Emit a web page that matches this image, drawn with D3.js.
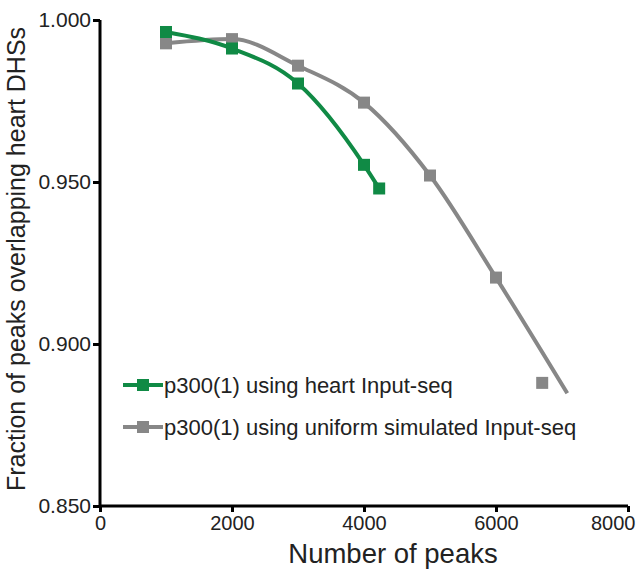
<!DOCTYPE html>
<html>
<head>
<meta charset="utf-8">
<script src="https://cdn.jsdelivr.net/npm/d3@7"></script>
<style>
  body { margin: 0; background: #fff; }
  text { font-family: "Liberation Sans", Arial, sans-serif; }
</style>
</head>
<body>
<svg class="chart"></svg>
<script>
// data
var xTicks = [0, 2000, 4000, 6000, 8000];
var yTicks = [0.85, 0.90, 0.95, 1.00];

var heartPeaks = [1000, 2000, 3000, 4000, 4230];
var heartFrac  = [0.9963, 0.9912, 0.9804, 0.9553, 0.9480];

var uniformPeaks = [1000, 2000, 3000, 4000, 5000, 6000, 6700];
var uniformFrac  = [0.9928, 0.9941, 0.9859, 0.9745, 0.9520, 0.9205, 0.8880];

// fitted curve for the uniform series (runs past the last marker)
var uniformCurvePeaks = [1000, 2000, 3000, 4000, 5000, 6000, 7080];
var uniformCurveFrac  = [0.9928, 0.9941, 0.9859, 0.9745, 0.9520, 0.9205, 0.8848];

var legendLabels = ["p300(1) using heart Input-seq", "p300(1) using uniform simulated Input-seq"];
var colors = ["#108a45", "#878787"];

var W = 644, H = 574;
var margin = {top: 20, right: 16, bottom: 68, left: 100},
    width = W - margin.left - margin.right,
    height = H - margin.top - margin.bottom;

var chart = d3.select(".chart").attr("width", W).attr("height", H);
var g = chart.append("g").attr("transform", "translate(" + margin.left + "," + margin.top + ")");

var xScale = d3.scaleLinear().domain([0, 8000]).range([0, 528]);
var yScale = d3.scaleLinear().domain([0.85, 1.0]).range([486, 0]);

// axes
var xAxis = g.append("g")
    .attr("transform", "translate(0,486)")
    .call(d3.axisBottom(xScale).tickValues(xTicks).tickSize(6).tickPadding(4).tickFormat(d3.format("d")));
var yAxis = g.append("g")
    .call(d3.axisLeft(yScale).tickValues(yTicks).tickSize(7).tickPadding(2).tickFormat(d3.format(".3f")));

[xAxis, yAxis].forEach(function(a){
  a.select(".domain").attr("stroke", "#000").attr("stroke-width", 3);
  a.selectAll(".tick line").attr("stroke", "#000").attr("stroke-width", 3);
  a.selectAll(".tick text").attr("fill", "#222");
});
xAxis.selectAll(".tick text").style("font-size", "20px").attr("y", 24).attr("dy", 0);
yAxis.selectAll(".tick text").style("font-size", "21px");
// last x label is pulled in so it stays on the page
xAxis.selectAll(".tick text").filter(function(d){ return d === 8000; })
    .attr("text-anchor", "end").attr("x", 7);
xAxis.select(".domain").attr("d", "M0,0H528");
yAxis.select(".domain").attr("d", "M0,486V0");

// axis titles
g.append("text")
    .attr("x", 293).attr("y", 486 + 57)
    .attr("text-anchor", "middle")
    .attr("fill", "#222")
    .style("font-size", "27.5px")
    .text("Number of peaks");

g.append("text")
    .attr("transform", "rotate(-90)")
    .attr("x", -239).attr("y", -75)
    .attr("text-anchor", "middle")
    .attr("fill", "#222")
    .style("font-size", "25px")
    .text("Fraction of peaks overlapping heart DHSs");

var line = d3.line()
  .curve(d3.curveMonotoneX)
  .x(function(d) { return xScale(d[0]); })
  .y(function(d) { return yScale(d[1]); });

var heart = d3.zip(heartPeaks, heartFrac);
var uniform = d3.zip(uniformPeaks, uniformFrac);
var uniformCurve = d3.zip(uniformCurvePeaks, uniformCurveFrac);

g.append("path").datum(uniformCurve)
    .attr("fill", "none").attr("stroke", colors[1]).attr("stroke-width", 4)
    .attr("d", line);
g.selectAll(".uni").data(uniform).enter().append("rect")
    .attr("x", function(d){ return xScale(d[0]) - 6; })
    .attr("y", function(d){ return yScale(d[1]) - 6; })
    .attr("width", 12).attr("height", 12)
    .attr("fill", colors[1]);

g.append("path").datum(heart)
    .attr("fill", "none").attr("stroke", colors[0]).attr("stroke-width", 4)
    .attr("d", line);
g.selectAll(".heart").data(heart).enter().append("rect")
    .attr("x", function(d){ return xScale(d[0]) - 6; })
    .attr("y", function(d){ return yScale(d[1]) - 6; })
    .attr("width", 12).attr("height", 12)
    .attr("fill", colors[0]);

// legend
var legend = g.selectAll(".legend").data(legendLabels).enter().append("g")
    .attr("transform", function(d, i){ return "translate(23," + (365 + i * 42) + ")"; });
legend.append("line")
    .attr("x1", 0).attr("x2", 40)
    .attr("stroke", function(d, i){ return colors[i]; })
    .attr("stroke-width", 4);
legend.append("rect")
    .attr("x", 14).attr("y", -6).attr("width", 12).attr("height", 12)
    .attr("fill", function(d, i){ return colors[i]; });
legend.append("text")
    .attr("x", 41).attr("y", 8)
    .attr("fill", "#222")
    .style("font-size", "22px")
    .text(function(d){ return d; });
</script>
</body>
</html>
